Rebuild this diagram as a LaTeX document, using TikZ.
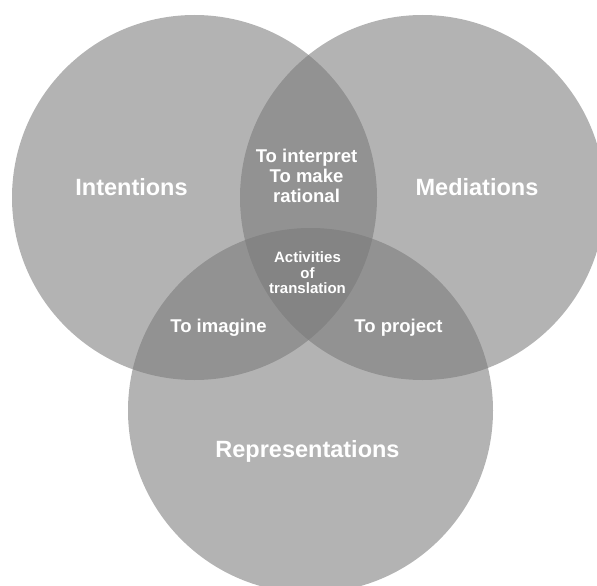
\documentclass[tikz,border=0pt]{standalone}
\usepackage{fontspec}
\setmainfont{Liberation Sans}
\definecolor{venn}{RGB}{120,120,120}
\tikzset{
  disc/.style={circle, minimum size=365pt, inner sep=0pt, fill=venn, fill opacity=0.56, draw=none},
  big/.style={text=white, font=\bfseries\fontsize{23.5}{26}\selectfont, inner sep=0pt},
  mid/.style={text=white, font=\bfseries\fontsize{18.5}{20}\selectfont, align=center, inner sep=0pt},
  small/.style={text=white, font=\bfseries\fontsize{15}{15.5}\selectfont, align=center, inner sep=0pt}
}
\begin{document}
\begin{tikzpicture}[x=1pt,y=-1pt]
\useasboundingbox (0,0) rectangle (597,586);
\clip (0,0) rectangle (597,586);
\node[disc] (int) at (194.5,197.5) {};
\node[disc] (med) at (422.5,197.5) {};
\node[disc] (rep) at (310.5,410.5) {};
\node[big] (tint) at (131.5,187) {Intentions};
\node[big] (tmed) at (477,187) {Mediations};
\node[big] (trep) at (307.5,451) {Representations};
\node[mid] (timg) at (218.5,328) {To imagine};
\node[mid] (tproj) at (398.5,328) {To project};
\node[mid] (tinterp) at (306.5,176) {To interpret\\To make\\rational};
\node[small] (tact) at (307.5,273) {Activities\\of\\translation};
\end{tikzpicture}
\end{document}
